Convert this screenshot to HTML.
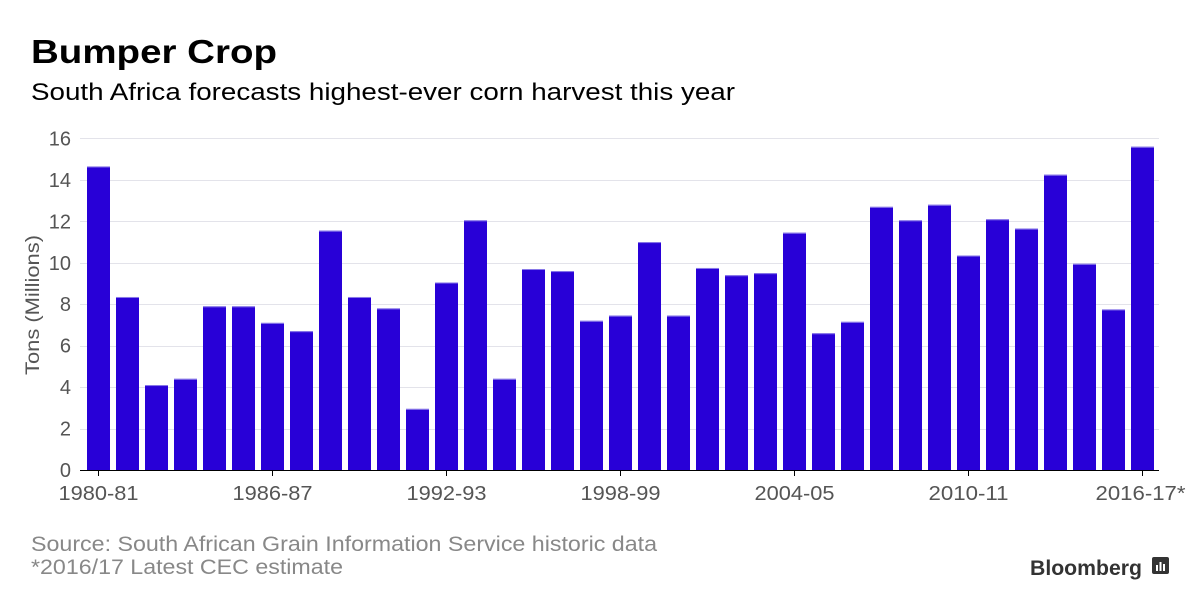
<!DOCTYPE html>
<html><head><meta charset="utf-8"><style>
body{margin:0;background:#fff;width:1200px;height:610px;overflow:hidden;font-family:"Liberation Sans",sans-serif}
</style></head><body>
<svg width="1200" height="610" xmlns="http://www.w3.org/2000/svg" font-family="Liberation Sans, sans-serif">
<text x="31" y="63" font-size="33" font-weight="bold" fill="#000" textLength="246" lengthAdjust="spacingAndGlyphs">Bumper Crop</text>
<text x="31" y="100" font-size="24" fill="#000" textLength="704" lengthAdjust="spacingAndGlyphs">South Africa forecasts highest-ever corn harvest this year</text>
<g id="grid" stroke="#e3e3ea" stroke-width="1"></g>
<g id="ylab" font-size="20" fill="#555" text-anchor="end"></g>
<text transform="translate(39,305) rotate(-90)" font-size="19" fill="#555" text-anchor="middle" textLength="140" lengthAdjust="spacingAndGlyphs">Tons (Millions)</text>
<g id="bars"></g>
<line x1="80" y1="470.5" x2="1159" y2="470.5" stroke="#000" stroke-width="1"/>
<g id="ticks" stroke="#000"></g>
<g id="xlab" font-size="20" fill="#555" text-anchor="middle"></g>
<text x="31" y="551" font-size="21" fill="#888" textLength="626" lengthAdjust="spacingAndGlyphs">Source: South African Grain Information Service historic data</text>
<text x="31" y="574" font-size="21" fill="#888" textLength="312" lengthAdjust="spacingAndGlyphs">*2016/17 Latest CEC estimate</text>
<text x="1030" y="575" font-size="21" font-weight="bold" fill="#333" textLength="112" lengthAdjust="spacingAndGlyphs">Bloomberg</text>
<rect x="1152" y="557" width="17" height="17" rx="2" fill="#333"/>
<rect x="1156" y="565" width="2" height="6" fill="#fff"/><rect x="1159.5" y="562" width="2" height="9" fill="#fff"/><rect x="1163" y="564" width="2" height="7" fill="#fff"/>
</svg>
<script>
var v=[14.65,8.35,4.1,4.4,7.9,7.9,7.1,6.7,11.55,8.35,7.8,2.95,9.05,12.05,4.4,9.7,9.6,7.2,7.45,11.0,7.45,9.75,9.4,9.5,11.45,6.6,7.15,12.7,12.05,12.8,10.35,12.1,11.65,14.25,9.95,7.75,15.6];
var ns="http://www.w3.org/2000/svg";function el(p,t,a,txt){var e=document.createElementNS(ns,t);for(var k in a)e.setAttribute(k,a[k]);if(txt)e.textContent=txt;document.getElementById(p).appendChild(e);}
var y0=470,s=20.72;
for(var i=1;i<=8;i++){var y=Math.round(y0-i*2*s)+0.5;el('grid','line',{x1:80,x2:1159,y1:y,y2:y});}
for(var i=0;i<=8;i++){el('ylab','text',{x:71,y:y0-i*2*s+7},String(i*2));}
var labs=["1980-81","1986-87","1992-93","1998-99","2004-05","2010-11","2016-17*"];
v.forEach(function(d,i){var x=87+i*29,h=d*s;el('bars','rect',{x:x,y:y0-h,width:23,height:h,fill:'#2800d7'});el('bars','rect',{x:x,y:y0-h,width:23,height:1,fill:'#8a7ae8'});
if(i%6==0){var a={x:x+11.5+(i==36?-2:0),y:500,textLength:(i==36?90:80),lengthAdjust:'spacingAndGlyphs'};el('ticks','line',{x1:x+11.5,x2:x+11.5,y1:470,y2:476});el('xlab','text',a,labs[i/6]);}});
</script>
</body></html>
